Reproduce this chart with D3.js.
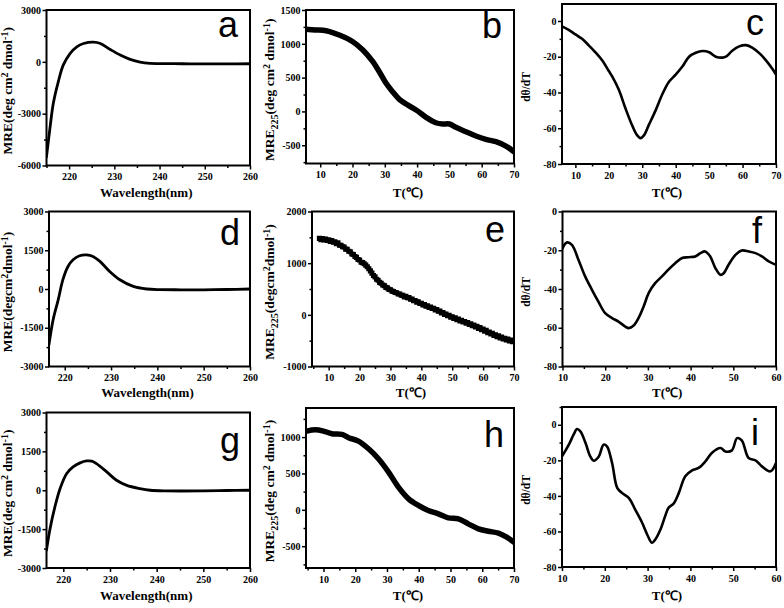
<!DOCTYPE html>
<html><head><meta charset="utf-8">
<script src="https://cdn.jsdelivr.net/npm/d3@7"></script>
<style>body{margin:0;background:#fff}svg{display:block}</style>
</head><body>
<svg id="chart" width="784" height="608"></svg>
<script>
// ---------- data ----------
const aWavelength = [215, 215.8, 216.5, 217.6, 218.7, 220.2, 221.7, 223.2, 225.4, 226.9, 229.1, 231.3, 233.5, 235.7, 237.9, 240, 245, 250, 255, 260];
const aMRE        = [-5500, -3760, -2410, -1160, -190, 480, 870, 1060, 1140, 1060, 710, 390, 140, -20, -90, -100, -110, -120, -115, -110];

const bTemp   = [5.6, 8.5, 11.8, 15.9, 20.1, 23.2, 26.3, 28.3, 30.4, 32.4, 34.5, 36.6, 39.7, 42.8, 45.8, 47.9, 50, 52, 55.1, 58.2, 61.3, 64.4, 67.5, 70];
const bMRE225 = [1214, 1205, 1194, 1130, 1031, 908, 735, 587, 416, 292, 179, 109, 21, -87, -167, -186, -186, -235, -300, -364, -413, -448, -512, -596];

const cTemp  = [6, 8, 10, 12, 14, 16, 18, 20, 21, 23, 25, 27, 28.5, 29.5, 30.5, 32, 34, 36, 38, 40, 42, 44, 46, 48, 50, 52, 54, 55, 57, 59, 61, 63, 65, 67, 69, 70];
const cDeriv = [-3, -5, -7.5, -10, -13.6, -17.5, -22, -28, -31, -38.5, -49, -58.5, -64, -65.5, -64, -58, -50, -41, -34, -30, -25.5, -20, -17.8, -16.8, -17.5, -20, -20.5, -20, -16.5, -14.2, -13.5, -15, -18, -22, -27, -30];

const dWavelength = [216.6, 217.5, 218.6, 219.6, 220.7, 221.8, 223.2, 224.7, 226.1, 227.6, 229.7, 231.9, 234.8, 237.7, 240.5, 245, 250, 255, 260];
const dMRE        = [-2150, -1180, -410, 360, 870, 1130, 1285, 1320, 1260, 1070, 680, 360, 100, 0, -25, -30, -30, -20, 0];

const eTemp = [7, 7.5, 8, 8.5, 9, 9.5, 10, 10.5, 11, 11.5, 12, 12.5, 13, 13.5, 14, 14.5, 15, 15.5, 16, 16.5, 17, 17.5, 18, 18.5, 19, 19.5, 20, 20.5, 21, 21.5, 22, 22.5, 23, 23.5, 24, 24.5, 25, 25.5, 26, 26.5, 27, 27.5, 28, 28.5, 29, 29.5, 30, 30.5, 31, 31.5, 32, 32.5, 33, 33.5, 34, 34.5, 35, 35.5, 36, 36.5, 37, 37.5, 38, 38.5, 39, 39.5, 40, 40.5, 41, 41.5, 42, 42.5, 43, 43.5, 44, 44.5, 45, 45.5, 46, 46.5, 47, 47.5, 48, 48.5, 49, 49.5, 50, 50.5, 51, 51.5, 52, 52.5, 53, 53.5, 54, 54.5, 55, 55.5, 56, 56.5, 57, 57.5, 58, 58.5, 59, 59.5, 60, 60.5, 61, 61.5, 62, 62.5, 63, 63.5, 64, 64.5, 65, 65.5, 66, 66.5, 67, 67.5, 68, 68.5, 69, 69.5, 70];
const eMRE225 = [1480, 1455, 1475, 1450, 1468, 1440, 1452, 1418, 1438, 1405, 1412, 1378, 1392, 1348, 1346, 1318, 1312, 1272, 1268, 1232, 1222, 1176, 1168, 1128, 1112, 1072, 1062, 1018, 1010, 988, 962, 932, 892, 850, 808, 762, 735, 690, 668, 628, 612, 578, 566, 532, 522, 492, 486, 458, 452, 432, 428, 402, 404, 378, 376, 348, 358, 332, 334, 302, 306, 272, 278, 246, 252, 218, 224, 192, 198, 166, 176, 142, 150, 122, 128, 96, 104, 68, 74, 38, 44, 8, 14, -18, -10, -44, -36, -70, -58, -92, -82, -116, -104, -138, -128, -162, -148, -186, -172, -208, -198, -236, -224, -262, -248, -288, -276, -316, -298, -346, -332, -368, -356, -398, -386, -424, -408, -448, -432, -468, -452, -488, -470, -506, -490, -518, -506];

const fTemp  = [10, 11, 12.2, 13.75, 15.3, 16.9, 18.4, 20, 21.6, 23.1, 24.7, 25.5, 26.6, 27.8, 29, 30.2, 31.7, 33.3, 34.8, 36.4, 38, 39.5, 41.1, 42.3, 43.4, 44.6, 45.8, 47, 47.7, 48.9, 50.5, 52, 53.6, 55.2, 56.7, 58.3, 60];
const fDeriv = [-19, -16, -17.2, -25, -33.5, -40.4, -46.5, -52.5, -55, -56.8, -59.4, -60.2, -59, -55, -49, -42, -37, -33.5, -30, -26.7, -24, -23.6, -23.2, -21.5, -20.6, -23.2, -29.2, -32.7, -32, -27.5, -22.4, -20.1, -20.6, -21.5, -23.2, -25.8, -27.5];

const gWavelength = [216.4, 217.1, 218.2, 219.3, 220.7, 222.1, 223.6, 225, 226.1, 227.1, 229.3, 231.4, 233.6, 236.4, 238.6, 242, 250, 255, 260];
const gMRE        = [-2310, -1540, -640, 60, 640, 900, 1055, 1130, 1120, 1030, 710, 385, 190, 65, 0, -25, -25, -10, 0];

const hTemp   = [4.75, 7.4, 10, 12.6, 15.8, 17.9, 21, 24.2, 27.3, 30.5, 33.6, 36.8, 39.9, 43, 46.2, 49.3, 52.5, 55.6, 58.8, 61.9, 65.1, 67.7, 70];
const hMRE225 = [1083, 1101, 1083, 1046, 1037, 991, 945, 839, 702, 518, 312, 151, 60, -9, -55, -110, -124, -193, -261, -294, -321, -376, -445];

const iTemp  = [10, 11.6, 12.7, 13.5, 14.3, 15.5, 16.6, 17.4, 18.6, 19.7, 20.5, 21.7, 22.9, 24, 25.6, 27.1, 28.7, 29.9, 31, 31.8, 33, 34.1, 34.9, 36.1, 37.3, 38.8, 40.4, 41.9, 43.5, 45, 47, 48.2, 49.7, 50.9, 52, 53.6, 55.2, 56.7, 58.7, 60];
const iDeriv = [-17.8, -11.2, -5.6, -2.4, -3.7, -10.3, -17.8, -20.2, -17.8, -11.2, -12.1, -21.5, -35.5, -38.3, -41.1, -47.7, -55, -61.7, -66.4, -64.5, -58.9, -51.4, -46.7, -44.3, -38.3, -29, -25.6, -24.3, -20.6, -15.9, -13.1, -15, -14.4, -7.5, -8.8, -18.7, -20, -23.4, -26.2, -21.5];

// tick labels
const wlTicks     = [220, 230, 240, 250, 260];
const t70Ticks    = [10, 20, 30, 40, 50, 60, 70];
const t60Ticks    = [10, 20, 30, 40, 50, 60];
const mreTicksA   = [-6000, -3000, 0, 3000];
const mreTicksDG  = [-3000, -1500, 0, 1500, 3000];
const mreTicksB   = [-500, 0, 500, 1000, 1500];
const mreTicksE   = [-1000, 0, 1000, 2000];
const mreTicksH   = [-500, 0, 500, 1000];
const derivTicks  = [-80, -60, -40, -20, 0];

// axis titles
const labMRE     = [["MRE(deg cm",0],["2",-1],[" dmol",0],["-1",-1],[")",0]];
const labMREcomp = [["MRE(degcm",0],["2",-1],["dmol",0],["-1",-1],[")",0]];
const lab225     = [["MRE",0],["225",1],["(deg cm",0],["2",-1],[" dmol",0],["-1",-1],[")",0]];
const lab225comp = [["MRE",0],["225",1],["(degcm",0],["2",-1],["dmol",0],["-1",-1],[")",0]];
const labDeriv   = [["dθ/dT",0]];

// ---------- layout ----------
const panels = [
  {k:"a", xs:aWavelength, ys:aMRE, kind:"line", sw:2.8, xd:[215,260], yd:[-6000,3000], xt:wlTicks, yt:mreTicksA, box:[46.5,10,250,165.5], xl:"Wavelength(nm)", yl:labMRE, ylx:12, letter:[238,37], xlb:197},
  {k:"b", xs:bTemp, ys:bMRE225, kind:"line", sw:5.5, xd:[5.6,70], yd:[-770,1500], xt:t70Ticks, yt:mreTicksB, box:[306,10,514,163.5], xl:"T(℃)", yl:lab225, ylx:274, letter:[502,38], xlb:197},
  {k:"c", xs:cTemp, ys:cDeriv, kind:"line", sw:2.6, xd:[6,70], yd:[-80,9.5], xt:t70Ticks, yt:derivTicks, box:[562,4,776,164], xl:"T(℃)", yl:labDeriv, ylx:530, letter:[764,35], xlb:197},
  {k:"d", xs:dWavelength, ys:dMRE, kind:"line", sw:2.8, xd:[216.6,260], yd:[-3000,3000], xt:wlTicks, yt:mreTicksDG, box:[49,211.5,250,366.5], xl:"Wavelength(nm)", yl:labMREcomp, ylx:12, letter:[240,245], xlb:397},
  {k:"e", xs:eTemp, ys:eMRE225, kind:"scatter", sw:0, xd:[4.6,70], yd:[-1000,2000], xt:t70Ticks, yt:mreTicksE, box:[312,211.5,514,366.5], xl:"T(℃)", yl:lab225comp, ylx:274, letter:[505,242], xlb:397},
  {k:"f", xs:fTemp, ys:fDeriv, kind:"line", sw:2.6, xd:[10,60], yd:[-80,0], xt:t60Ticks, yt:derivTicks, box:[562.5,211.5,776,366.5], xl:"T(℃)", yl:labDeriv, ylx:530, letter:[762,243], xlb:397},
  {k:"g", xs:gWavelength, ys:gMRE, kind:"line", sw:2.8, xd:[216.4,260], yd:[-3000,3000], xt:wlTicks, yt:mreTicksDG, box:[46.5,412.5,250,568], xl:"Wavelength(nm)", yl:labMRE, ylx:12, letter:[240,453], xlb:600},
  {k:"h", xs:hTemp, ys:hMRE225, kind:"line", sw:5.5, xd:[4.5,70], yd:[-800,1400], xt:t70Ticks, yt:mreTicksH, box:[306,408,514,568], xl:"T(℃)", yl:lab225, ylx:274, letter:[504,447], xlb:600},
  {k:"i", xs:iTemp, ys:iDeriv, kind:"line", sw:2.6, xd:[10,60], yd:[-80,10], xt:t60Ticks, yt:derivTicks, box:[562,407,776,567], xl:"T(℃)", yl:labDeriv, ylx:530, letter:[759,445], xlb:600}
];

const svg = d3.select("#chart");
svg.append("rect").attr("width",784).attr("height",608).attr("fill","#fff");
const serif = "'Liberation Serif','Times New Roman',serif";
const sans = "'Liberation Sans',Arial,sans-serif";

function minorTicks(major, dom){
  const step = major[1]-major[0];
  const lo = Math.min(dom[0],dom[1]), hi = Math.max(dom[0],dom[1]);
  const out = [];
  const start = major[0] - step*10;
  for (let v = start + step/2; v <= hi + 1e-9; v += step) if (v >= lo - 1e-9) out.push(+v.toFixed(6));
  return out;
}

panels.forEach(p => {
  const [l,t,r,b] = p.box;
  const x = d3.scaleLinear().domain(p.xd).range([l,r]);
  const y = d3.scaleLinear().domain(p.yd).range([b,t]);
  const g = svg.append("g");

  const clipId = "clip-"+p.k;
  svg.append("clipPath").attr("id",clipId).append("rect").attr("x",l).attr("y",t).attr("width",r-l).attr("height",b-t);

  const data = p.xs.map((v,i)=>[v,p.ys[i]]);
  if (p.kind === "line") {
    g.append("path").datum(data).attr("clip-path","url(#"+clipId+")")
      .attr("fill","none").attr("stroke","#000").attr("stroke-width",p.sw)
      .attr("stroke-linejoin","round").attr("stroke-linecap","round")
      .attr("d", d3.line().x(d=>x(d[0])).y(d=>y(d[1])).curve(d3.curveCatmullRom.alpha(0.5)));
  } else {
    g.append("g").attr("clip-path","url(#"+clipId+")").selectAll("path").data(data).join("path")
      .attr("transform",d=>`translate(${x(d[0])},${y(d[1])})`)
      .attr("d", d3.symbol(d3.symbolSquare, 26)()).attr("fill","#000");
  }

  // axes
  const xAxis = g.append("g").attr("transform",`translate(0,${b})`)
    .call(d3.axisBottom(x).tickValues(p.xt).tickSize(4).tickPadding(3.5).tickFormat(d3.format("d")));
  const xMinor = g.append("g").attr("transform",`translate(0,${b})`)
    .call(d3.axisBottom(x).tickValues(minorTicks(p.xt,p.xd)).tickSize(2.5).tickFormat(""));
  const yAxis = g.append("g").attr("transform",`translate(${l},0)`)
    .call(d3.axisLeft(y).tickValues(p.yt).tickSize(4).tickPadding(1.5).tickFormat(d=>d3.format("d")(d).replace("−","-")));
  const yMinor = g.append("g").attr("transform",`translate(${l},0)`)
    .call(d3.axisLeft(y).tickValues(minorTicks(p.yt,p.yd)).tickSize(2.5).tickFormat(""));
  [xAxis,xMinor,yAxis,yMinor].forEach(a=>{
    a.select(".domain").remove();
    a.selectAll("line").attr("stroke","#000").attr("stroke-width",1.5);
    a.selectAll("text").attr("font-family",serif).attr("font-weight","bold").attr("font-size",10).attr("fill","#000");
  });

  // frame
  g.append("rect").attr("x",l).attr("y",t).attr("width",r-l).attr("height",b-t)
    .attr("fill","none").attr("stroke","#000").attr("stroke-width",2);

  // x title
  g.append("text").attr("x",(l+r)/2-2).attr("y",p.xlb).attr("text-anchor","middle")
    .attr("font-family",serif).attr("font-weight","bold").attr("font-size",13).text(p.xl);

  // y title
  const isDeriv = p.yl === labDeriv;
  const yt = g.append("text")
    .attr("transform",`translate(${p.ylx},${(t+b)/2+3}) rotate(-90)`)
    .attr("text-anchor","middle").attr("dy","0.35em")
    .attr("font-family",serif).attr("font-weight","bold").attr("font-size", isDeriv ? 11.5 : 13.5);
  let off = 0;
  p.yl.forEach(([s,m])=>{
    const target = m===-1 ? -4.5 : (m===1 ? 3.5 : 0);
    const ts = yt.append("tspan").attr("dy", target-off).text(s);
    if (m!==0) ts.attr("font-size", isDeriv ? 9 : 10);
    off = target;
  });

  // panel letter
  g.append("text").attr("x",p.letter[0]).attr("y",p.letter[1]).attr("text-anchor","end")
    .attr("font-family",sans).attr("font-size",36).attr("fill","#000").text(p.k);
});
</script>
</body></html>
